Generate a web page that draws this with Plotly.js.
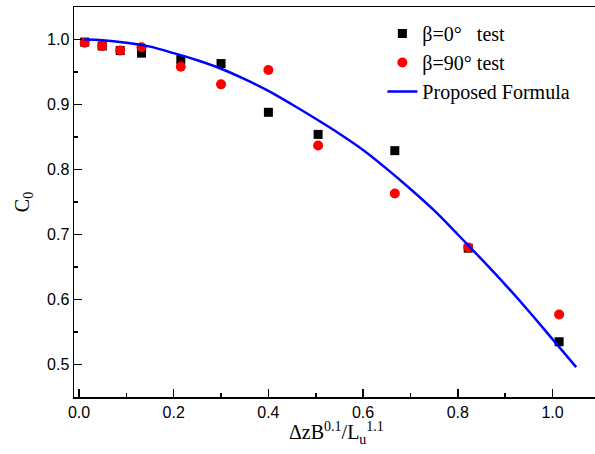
<!DOCTYPE html>
<html>
<head>
<meta charset="utf-8">
<script src="https://cdn.plot.ly/plotly-3.0.1.min.js"></script>
<style>
html, body { margin: 0; padding: 0; overflow: hidden; background: #fff; }
#chart { width: 620px; height: 454px; }
</style>
</head>
<body>
<div id="chart"></div>
<script>
// Test data
const xTest = [0.012, 0.049, 0.087, 0.132, 0.215, 0.300, 0.400, 0.505, 0.667, 0.822, 1.014];
const c0Beta0 = [0.996, 0.990, 0.983, 0.979, 0.969, 0.963, 0.888, 0.854, 0.829, 0.679, 0.535];
const c0Beta90 = [0.995, 0.990, 0.983, 0.988, 0.958, 0.931, 0.953, 0.837, 0.763, 0.680, 0.577];

// Proposed formula curve
const xCurve = [0.01, 0.05, 0.10, 0.15, 0.20, 0.25, 0.30, 0.35, 0.40, 0.45, 0.50, 0.55, 0.60, 0.65, 0.70, 0.75, 0.80, 0.85, 0.90, 0.95, 1.00, 1.05];
const c0Curve = [1.000, 0.999, 0.995, 0.989, 0.979, 0.968, 0.955, 0.939, 0.921, 0.900, 0.878, 0.855, 0.830, 0.801, 0.770, 0.737, 0.700, 0.662, 0.623, 0.582, 0.539, 0.496];

const seriesNames = ['β=0°\u00A0\u00A0\u00A0test', 'β=90° test', 'Proposed Formula'];
const xTitle = 'ΔzB<sup>0.1</sup>/L<sub>u</sub><sup>1.1</sup>';
const yTitle = 'C<sub>0</sub>';

const traces = [
  {
    x: xTest, y: c0Beta0, type: 'scatter', mode: 'markers', name: seriesNames[0],
    marker: { symbol: 'square', size: 9, color: '#000000' }
  },
  {
    x: xTest, y: c0Beta90, type: 'scatter', mode: 'markers', name: seriesNames[1],
    marker: { symbol: 'circle', size: 10, color: '#FF0000' }
  },
  {
    x: xCurve, y: c0Curve, type: 'scatter', mode: 'lines', name: seriesNames[2],
    line: { color: '#0000FF', width: 2.5, shape: 'spline' }
  }
];

const tickFont = { family: '"Liberation Sans", Arial, sans-serif', size: 16, color: '#000' };
const serif = '"Liberation Serif", "Times New Roman", serif';

const layout = {
  width: 620, height: 454,
  margin: { l: 74, r: 5, t: 7, b: 57 },
  paper_bgcolor: '#fff', plot_bgcolor: '#fff',
  showlegend: true,
  legend: {
    x: 0.57, y: 0.982, xanchor: 'left', yanchor: 'top',
    font: { family: serif, size: 20, color: '#000' },
    bgcolor: 'rgba(0,0,0,0)', borderwidth: 0, tracegroupgap: 0
  },
  annotations: [
    {
      text: xTitle, xref: 'paper', yref: 'paper', x: 0.486, y: -0.092,
      xanchor: 'center', yanchor: 'middle', showarrow: false,
      font: { family: serif, size: 20, color: '#000' }
    }
  ],
  xaxis: {
    range: [-0.01056, 1.132],
    tick0: 0, dtick: 0.2, tickformat: '.1f',
    ticks: 'inside', ticklen: 8, tickwidth: 1.5, tickcolor: '#000',
    minor: { dtick: 0.1, ticks: 'inside', ticklen: 4, tickwidth: 1.5, tickcolor: '#000' },
    showline: true, linecolor: '#000', linewidth: 1.5, mirror: true,
    showgrid: false, zeroline: false,
    tickfont: tickFont
  },
  yaxis: {
    range: [0.45, 1.05],
    tick0: 0, dtick: 0.1, tickformat: '.1f',
    ticks: 'inside', ticklen: 8, tickwidth: 1.5, tickcolor: '#000',
    minor: { dtick: 0.05, ticks: 'inside', ticklen: 4, tickwidth: 1.5, tickcolor: '#000' },
    showline: true, linecolor: '#000', linewidth: 1.5,
    showgrid: false, zeroline: false,
    tickfont: tickFont,
    title: { text: yTitle, font: { family: serif, size: 20, color: '#000' }, standoff: 12 }
  }
};

Plotly.newPlot('chart', traces, layout, { displayModeBar: false, staticPlot: true });
</script>
</body>
</html>
